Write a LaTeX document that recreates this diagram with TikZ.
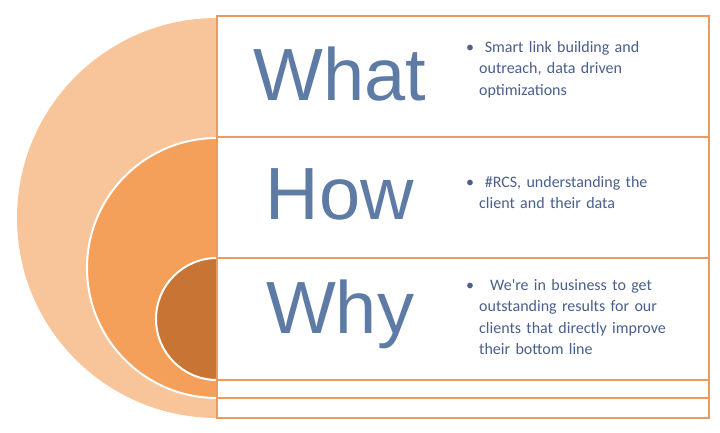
\documentclass[tikz,border=0pt]{standalone}
\usepackage{fontspec}
\setmainfont{Liberation Sans}
\newfontfamily\bodyf{Carlito}
\definecolor{c1}{HTML}{F8C49A}
\definecolor{c2}{HTML}{F5A05A}
\definecolor{c3}{HTML}{C87434}
\definecolor{bd}{HTML}{EE9A5E}
\definecolor{big}{HTML}{5E7BA6}
\definecolor{txt}{HTML}{4A5F8A}
\begin{document}
\begin{tikzpicture}[x=1pt,y=-1pt,
  rowbox/.style={draw=bd,line width=2pt},
  word/.style={text=big,font=\fontsize{74}{74}\selectfont},
  bul/.style={text=txt,font=\bodyf\fontsize{16}{21.5}\selectfont,align=left,anchor=north west,text width=245pt,inner sep=0pt}]
\useasboundingbox (0,0) rectangle (720,433);
\fill[c1] (217,18) arc[start angle=270,end angle=90,radius=200] -- cycle;
\filldraw[fill=c2,draw=white,line width=2pt] (217,138) arc[start angle=270,end angle=90,radius=130] -- cycle;
\filldraw[fill=c3,draw=white,line width=2pt] (217,258) arc[start angle=270,end angle=90,radius=61] -- cycle;
\fill[white] (217,16) rectangle (709,418);
\draw[rowbox] (217,16) rectangle (709,137);
\draw[rowbox] (217,137) rectangle (709,258);
\draw[rowbox] (217,258) rectangle (709,380);
\draw[rowbox] (217,380) rectangle (709,398);
\draw[rowbox] (217,398) rectangle (709,418);
\node[word] (what) at (340,74) {What};
\node[word] (how) at (340,194) {How};
\node[word] (why) at (340,314) {Why};
\node[bul] (b1) at (466,41) {\textbullet\ \ Smart link building and\\\hspace*{13pt}outreach, data driven\\\hspace*{13pt}optimizations};
\node[bul] (b2) at (466,176) {\textbullet\ \ \#RCS, understanding the\\\hspace*{13pt}client and their data};
\node[bul] (b3) at (466,279) {\textbullet\ \ \ We're in business to get\\\hspace*{13pt}outstanding results for our\\\hspace*{13pt}clients that directly improve\\\hspace*{13pt}their bottom  line};
\end{tikzpicture}
\end{document}
